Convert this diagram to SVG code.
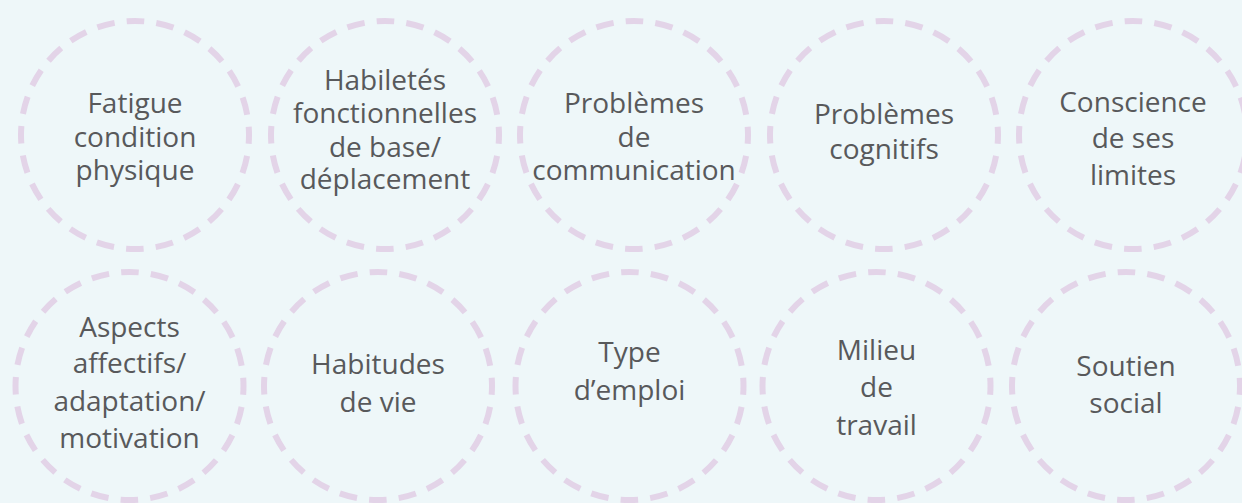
<svg xmlns="http://www.w3.org/2000/svg" width="1242" height="503" viewBox="0 0 1242 503">
<style>
.ring{fill:none;stroke:#e3d4e8;stroke-width:6;stroke-dasharray:17.84 12;stroke-dashoffset:8.92}
.lbl{font-family:"Open Sans","Noto Sans","Liberation Sans",sans-serif;font-size:28px;fill:#58595b;text-anchor:middle}
</style>
<rect width="1242" height="503" fill="#eef7f9"/>
<g id="connectors"/>
<g id="n1"><circle class="ring" cx="135" cy="135" r="114"/><text class="lbl"><tspan x="135" y="113">Fatigue</tspan><tspan x="135" y="147">condition</tspan><tspan x="135" y="180">physique</tspan></text></g>
<g id="n2"><circle class="ring" cx="385" cy="135" r="114"/><text class="lbl"><tspan x="385" y="90">Habiletés</tspan><tspan x="385" y="123">fonctionnelles</tspan><tspan x="385" y="157">de base/</tspan><tspan x="385" y="189">déplacement</tspan></text></g>
<g id="n3"><circle class="ring" cx="634" cy="135" r="114"/><text class="lbl"><tspan x="634" y="113">Problèmes</tspan><tspan x="634" y="147">de</tspan><tspan x="634" y="180">communication</tspan></text></g>
<g id="n4"><circle class="ring" cx="884" cy="135" r="114"/><text class="lbl"><tspan x="884" y="124">Problèmes</tspan><tspan x="884" y="159">cognitifs</tspan></text></g>
<g id="n5"><circle class="ring" cx="1133" cy="135" r="114"/><text class="lbl"><tspan x="1133" y="112">Conscience</tspan><tspan x="1133" y="148">de ses</tspan><tspan x="1133" y="185">limites</tspan></text></g>
<g id="n6"><circle class="ring" cx="129.5" cy="386" r="114"/><text class="lbl"><tspan x="129.5" y="337">Aspects</tspan><tspan x="129.5" y="373">affectifs/</tspan><tspan x="129.5" y="411">adaptation/</tspan><tspan x="129.5" y="448">motivation</tspan></text></g>
<g id="n7"><circle class="ring" cx="378" cy="386" r="114"/><text class="lbl"><tspan x="378" y="374">Habitudes</tspan><tspan x="378" y="412">de vie</tspan></text></g>
<g id="n8"><circle class="ring" cx="629.5" cy="386" r="114"/><text class="lbl"><tspan x="629.5" y="362">Type</tspan><tspan x="629.5" y="400">d’emploi</tspan></text></g>
<g id="n9"><circle class="ring" cx="876.5" cy="386" r="114"/><text class="lbl"><tspan x="876.5" y="360">Milieu</tspan><tspan x="876.5" y="397">de</tspan><tspan x="876.5" y="435">travail</tspan></text></g>
<g id="n10"><circle class="ring" cx="1126" cy="386" r="114"/><text class="lbl"><tspan x="1126" y="376">Soutien</tspan><tspan x="1126" y="413">social</tspan></text></g>
</svg>
